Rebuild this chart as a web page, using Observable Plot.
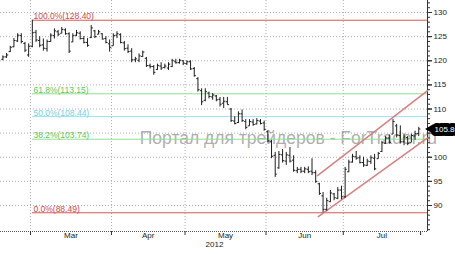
<!DOCTYPE html>
<html><head><meta charset="utf-8">
<script src="https://cdn.jsdelivr.net/npm/d3@7"></script>
<script src="https://cdn.jsdelivr.net/npm/@observablehq/plot@0.6"></script>
<style>html,body{margin:0;padding:0;background:#fff;}</style>
</head><body><div id="chart"></div>
<script>
// OHLC bars, one per trading day (index 0 = ~20 Feb 2012)
const high = [121,121.5,123,124.6,125.6,125.6,123.8,123.5,128.4,126.3,125,124.5,124.3,125.6,126.6,126.3,126.9,126.6,125.8,125.6,126.3,126,125,124.6,127.3,126.3,126.3,125.6,125,124.3,
125.6,126,125.6,124,123.3,122.5,120.7,121.4,122,120.7,119.3,119,119.3,119.6,119.3,119.6,120.3,120.3,120.3,120,
120,120,118.6,116.5,114.2,114.2,113.5,113.2,112.8,112.4,112.4,112.4,110.1,108.4,109.4,109.8,107.8,107.8,107.8,108,107.8,107.5,
105.5,103.5,101,101.2,101.6,101,102,100.3,97.9,97.9,97.9,98,99.7,97.2,94.6,92.7,91.5,93.1,92.5,93.7,94,
97.9,99.4,100.6,101.2,100.3,100,99.6,100.3,100.6,101,103.3,104.3,104.6,107.8,106.8,106.5,104.8,104.3,104.8,105.4,106.2];
const low = [120,120.5,121.7,122.7,123.8,123.5,121.7,120.7,122.7,123.8,122.7,122,121.8,123.8,124.5,125,125.6,125.3,121.5,123.8,125,124.3,123.5,122.8,124.6,124.6,125.4,124.3,123.5,121.8,
123,124.6,123.5,122,121.5,119.6,119.6,119.6,120.7,118.6,118.3,117,118,118,118.3,118,118.6,119.3,119.3,119,
119,118,116.6,113.5,110.7,111.5,112.1,111.8,111.5,110.4,110.1,110.8,107.2,106.7,107,107.2,105.7,106.4,106.4,106.7,106.7,105.4,
103,99.7,95.8,97.5,98.8,98.3,98.8,96.9,96.6,96.6,96.6,96.6,96.2,94.6,92.1,88.49,88.8,90.6,91,91.2,91.2,
91.5,96.8,98.8,99.4,98.6,97.9,98.1,98.5,97.2,99.6,101,102.7,102.7,104.7,104,102.8,102.4,102.4,103,103.5,104.3];
const open = [120.3,120.8,121.9,122.9,124.1,125.2,123.6,121.2,123,125.9,124.2,123.3,122.5,124,125.2,126,125.7,126.4,125.6,123.9,125.3,125.7,124.6,123.8,124.8,126.2,125.5,125.6,124.6,123.5,
123.1,125.3,125.4,123.7,122.6,122,120.2,120.1,120.9,120.5,119,118.8,118.2,118.9,118.6,118.5,118.8,119.8,119.6,120,
119.4,119.8,118.4,116.3,113.8,111.8,113.3,112.5,112.7,112,111.2,111.5,110,107.5,107.2,109,107.4,106.5,107.3,106.9,107.5,107.1,
105.3,103.2,100.4,97.8,100.5,99.2,100.4,99.4,97.2,97.5,97.1,97.5,97.1,96.8,94.5,92,89.2,90.8,92.4,91.5,93.2,
91.8,97,99,100.1,99.9,98.9,98.3,99.1,99.8,99.7,101.2,102.9,104,104.8,106.5,104.5,103.2,104.1,103,104.4,104.9];
const close = [120.8,121.2,122.8,124.2,125.3,124,122.2,123,125.8,124.3,123.2,122.6,124,125.3,126.2,125.5,126.5,125.6,122,125.2,125.8,124.6,123.8,123.2,126.8,125,126,124.5,123.8,122.8,
125.2,125.6,123.8,122.5,121.9,120.2,120.4,121,121.8,119,118.8,117.6,119,118.5,118.9,119.3,120,119.6,120.1,119.5,
119.8,118.3,116.9,114,111.5,113.6,112.6,112.9,111.9,111,111.6,110.9,107.6,107,109,107.6,106.2,107.4,106.8,107.6,107,105.8,
103.4,100.2,96.5,100.6,99.3,100.5,99.2,97.3,97.5,97.1,97.6,97,96.8,95,92.5,89.2,91,92.6,91.6,93.2,91.8,
97.5,99,100.2,99.8,98.9,98.4,99.2,99.9,97.6,100.8,103,104,103.1,107.4,104.6,103.2,104.2,102.9,104.5,104.9,105.86];

// month calendar (first trading-day index of each month)
const monthFirst = [8, 30, 50, 72, 93, 114];
const monthNames = ["Mar", "Apr", "May", "Jun", "Jul"];
const yearLabel = "2012";

// Fibonacci retracement levels
const fibPct = ["100.0%", "61.8%", "50.0%", "38.2%", "0.0%"];
const fibVal = [128.40, 113.15, 108.44, 103.74, 88.49];
const fibStart = 8;

// trend channel end points (index, price)
const channelUpper = [[85.5, 96.2], [115.4, 113.8]];
const channelLower = [[85.7, 87.7], [115.4, 104.0]];

const yTicks = [90, 95, 100, 105, 110, 115, 120, 125, 130];
const yTickLabels = [90, 95, 100, 110, 115, 120, 125, 130]; // 105 is hidden under the last-price box
const watermark = "Портал для трейдеров - ForTrader.ru";

const bars = high.map((h, i) => ({i, high: h, low: low[i], open: open[i], close: close[i]}));
const fibLineColor = ["#cf5a5a", "#8fe28f", "#9fe6f0", "#8fe28f", "#cf5a5a"];
const fibTextColor = ["#d04848", "#5cc85c", "#6fd3e3", "#5cc85c", "#d04848"];
const fib = fibVal.map((v, k) => ({v, label: `${fibPct[k]}(${v.toFixed(2)})`, line: fibLineColor[k], txt: fibTextColor[k]}));
const boundaries = monthFirst.map(d => d - 0.5);
const months = monthNames.map((name, k) => ({name, mid: (monthFirst[k] + monthFirst[k + 1] - 1) / 2}));
const xMax = 115.38;
const last = bars[bars.length - 1];
const grid = {stroke: "#b0b0b0", strokeDasharray: "1,2", strokeWidth: 1};

const chart = Plot.plot({
  width: 455, height: 254,
  marginLeft: 0, marginRight: 28, marginTop: 0, marginBottom: 23,
  x: {domain: [-0.65, xMax], axis: null},
  y: {domain: [84.61, 132.49], axis: null},
  style: {background: "#fff", fontFamily: "'Liberation Sans', Arial, sans-serif"},
  marks: [
    Plot.ruleY(yTicks, grid),
    Plot.ruleX(boundaries.slice(0, 5), grid),
    Plot.ruleY([84.61], {stroke: "#555", strokeDasharray: "1,1"}),
    Plot.ruleX([xMax], {stroke: "#333"}),
    Plot.text([watermark], {x: 37.2, y: 103.9, text: d => d, textAnchor: "start", fontSize: 17.5, fill: "#8a8a8a", fillOpacity: 0.7}),
    Plot.ruleY(fib, {y: "v", x1: fibStart, x2: xMax, stroke: "line"}),
    Plot.text(fib, {x: fibStart + 0.3, y: "v", text: "label", textAnchor: "start", lineAnchor: "bottom", dy: -1, fill: "txt", fontSize: 8.5}),
    Plot.line(channelUpper, {x: d => d[0], y: d => d[1], stroke: "#d98080"}),
    Plot.line(channelLower, {x: d => d[0], y: d => d[1], stroke: "#d98080"}),
    Plot.ruleX(bars, {x: "i", y1: "low", y2: "high", stroke: "#1e1e1e"}),
    Plot.link(bars, {x1: d => d.i - 0.45, x2: "i", y1: "open", y2: "open", stroke: "#1e1e1e"}),
    Plot.link(bars, {x1: "i", x2: d => d.i + 0.45, y1: "close", y2: "close", stroke: "#1e1e1e"}),
    Plot.axisY({anchor: "right", ticks: d3.range(85, 133, 1), tickSize: 2, tickFormat: () => "", stroke: "#333"}),
    Plot.axisY({anchor: "right", ticks: yTicks, tickSize: 4, tickFormat: () => "", stroke: "#333"}),
    Plot.axisY({anchor: "right", ticks: yTickLabels, tickSize: 4, tickPadding: 2, fontSize: 8, fill: "#222", stroke: "#333"}),
    Plot.axisX({anchor: "bottom", ticks: boundaries, tickSize: 4, tickFormat: () => "", stroke: "#333"}),
    Plot.text(months, {x: "mid", text: "name", frameAnchor: "bottom", dy: 6, fontSize: 8, fill: "#222"}),
    Plot.text([yearLabel], {x: 57.5, text: d => d, frameAnchor: "bottom", dy: 15.5, fontSize: 8, fill: "#222"}),
    Plot.dot([last], {x: xMax, y: "close", symbol: "triangle", rotate: -90, r: 3.5, fill: "#000", dx: 3}),
    Plot.text([last], {x: xMax, y: "close", text: d => d.close.toFixed(2), dx: 7, textAnchor: "start", fontSize: 8, fill: "#fff", stroke: "#000", strokeWidth: 8, strokeLinejoin: "round", paintOrder: "stroke"})
  ]
});
document.getElementById("chart").appendChild(chart);
</script>
</body></html>
